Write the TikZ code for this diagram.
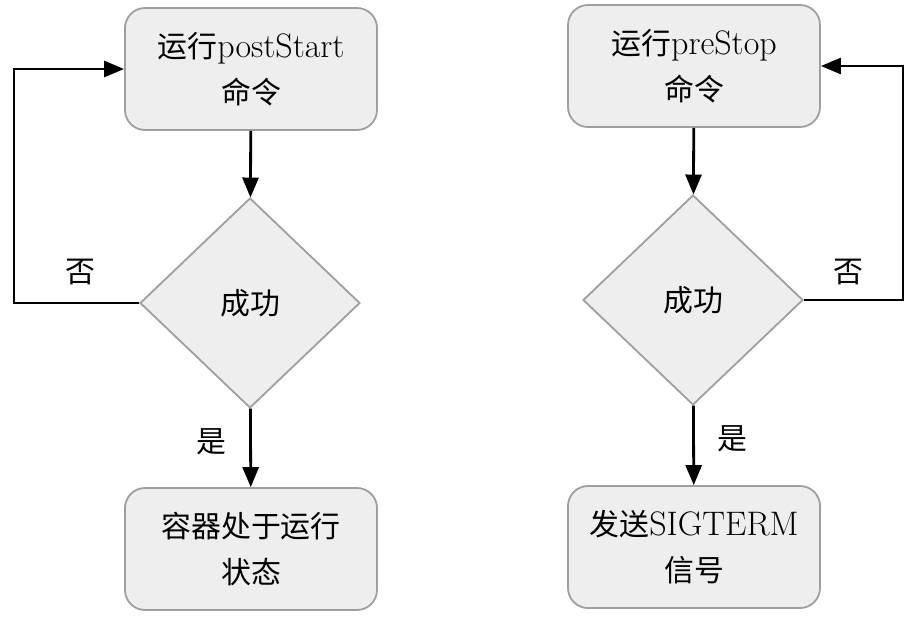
\documentclass[tikz,border=0pt]{standalone}
\usepackage{fontspec}
\newfontfamily\cjk{Noto Sans CJK SC}[Scale=0.88]
\usetikzlibrary{shapes.geometric,arrows.meta}

\tikzset{
  stepbox/.style={draw=gray!75, line width=0.9pt, fill=gray!13, rounded corners=10pt,
    minimum width=126pt, minimum height=61pt, align=center, inner sep=0pt,
    font=\fontsize{17}{23}\selectfont},
  check/.style={diamond, draw=gray!75, line width=0.9pt, fill=gray!13,
    minimum width=110pt, minimum height=105pt, aspect=1.05, inner sep=0pt,
    font=\fontsize{17}{23}\selectfont},
  flow/.style={line width=1.4pt, -{Triangle[length=10pt,width=8pt]}},
  tag/.style={font=\fontsize{17}{18}\selectfont\cjk}
}

\begin{document}
\begin{tikzpicture}[x=0.5pt,y=-0.5pt]
\useasboundingbox (0,0) rectangle (909,616);

% left column
\node[stepbox] (runA) at (251,69) {{\cjk 运行}postStart\\{\cjk 命令}};
\node[check] (okA) at (250,303) {\cjk 成功};
\node[stepbox] (endA) at (251,549) {\cjk 容器处于运行\\\cjk 状态};
\coordinate (loopA) at (14,0);

\draw[flow] (runA) -- (okA);
\draw[flow] (okA) -- (endA) node[tag, pos=0.42, left=8pt] {是};
\draw[flow] (okA.west) -- (okA.west -| loopA) |- (runA.west);
\node[tag] (noA) at (80,272) {否};

% right column
\node[stepbox] (runB) at (694,66) {{\cjk 运行}preStop\\{\cjk 命令}};
\node[check] (okB) at (693,300) {\cjk 成功};
\node[stepbox] (endB) at (694,547) {{\cjk 发送}SIGTERM\\{\cjk 信号}};
\coordinate (loopB) at (903,0);

\draw[flow] (runB) -- (okB);
\draw[flow] (okB) -- (endB) node[tag, pos=0.42, right=8pt] {是};
\draw[flow] (okB.east) -- (okB.east -| loopB) |- (runB.east);
\node[tag] (noB) at (848,272) {否};

\end{tikzpicture}
\end{document}
